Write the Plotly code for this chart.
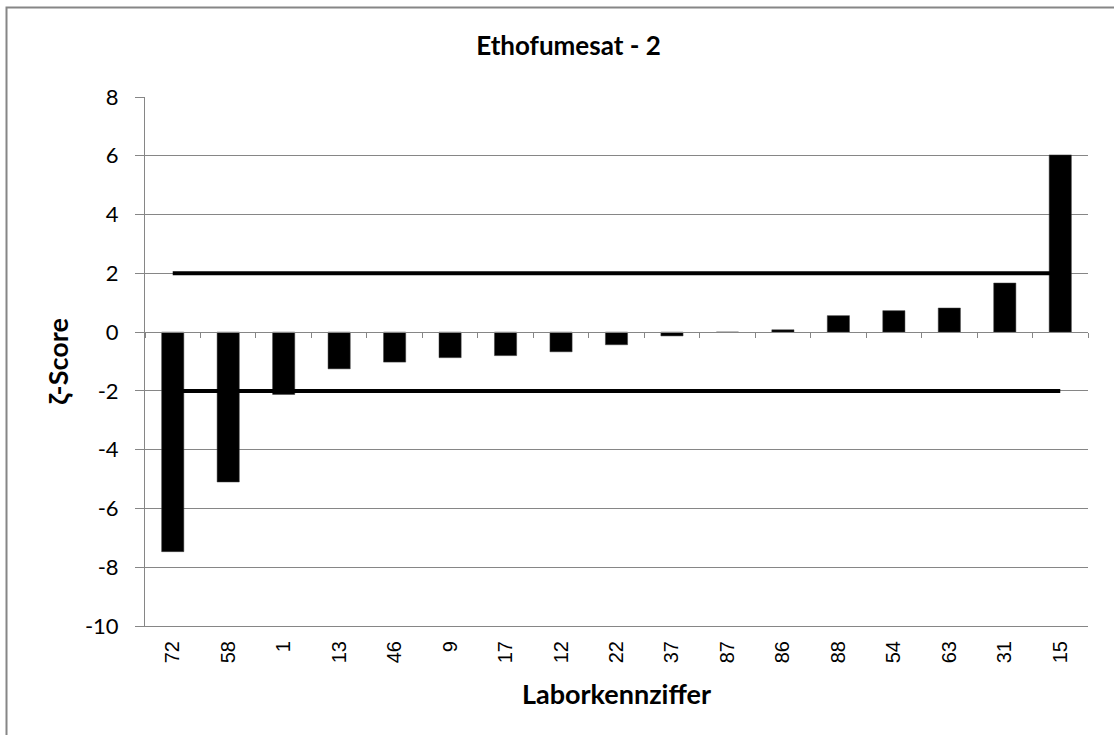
import plotly.graph_objects as go

labs = ["72", "58", "1", "13", "46", "9", "17", "12", "22", "37", "87", "86", "88", "54", "63", "31", "15"]
zscores = [-7.47, -5.1, -2.12, -1.25, -1.02, -0.87, -0.8, -0.67, -0.43, -0.13, 0.0, 0.08, 0.56, 0.73, 0.82, 1.67, 6.03]
upper_limit = [2] * len(labs)
lower_limit = [-2] * len(labs)

y_tickvals = [-10, -8, -6, -4, -2, 0, 2, 4, 6, 8]
y_ticktext = ["-10", "-8", "-6", "-4", "-2", "0", "2", "4", "6", "8"]

title_text = "Ethofumesat - 2"
x_title = "Laborkennziffer"
y_title = "ζ-Score"

GRID = "#868686"
FONT = "Lato"

fig = go.Figure()
fig.add_trace(go.Bar(
    x=labs, y=zscores,
    marker=dict(color="black", line=dict(color="#404040", width=0.5)),
    showlegend=False, hoverinfo="x+y",
))
fig.add_trace(go.Scatter(
    x=labs, y=upper_limit, mode="lines",
    line=dict(color="black", width=4), showlegend=False, xaxis="x2",
))
fig.add_trace(go.Scatter(
    x=labs, y=lower_limit, mode="lines",
    line=dict(color="black", width=4), showlegend=False, xaxis="x2",
))

zero_pos = (0 - (-10)) / (8 - (-10))

fig.update_layout(
    width=1114, height=735,
    margin=dict(l=145, r=26, t=97, b=109),
    paper_bgcolor="white", plot_bgcolor="white",
    bargap=0.6,
    title=dict(text="<b>" + title_text + "</b>", x=568.5 / 1114, xanchor="center",
               y=1 - 46 / 735, yanchor="middle",
               font=dict(family=FONT, size=26, color="black")),
    font=dict(family=FONT, color="black"),
    xaxis=dict(
        type="category", categoryorder="array", categoryarray=labs,
        range=[-0.5, len(labs) - 0.5],
        showline=True, linecolor=GRID, linewidth=1,
        showgrid=False, ticks="outside", ticklen=6, tickcolor="rgba(0,0,0,0)",
        tickangle=-90,
        tickfont=dict(family="Liberation Sans", size=20, color="black"),
        title=dict(text="<b>" + x_title + "</b>", standoff=22,
                   font=dict(family=FONT, size=27, color="black")),
    ),
    xaxis2=dict(
        type="category", categoryorder="array", categoryarray=labs,
        range=[-0.5, len(labs) - 0.5],
        overlaying="x", anchor="free", position=zero_pos, side="bottom",
        showline=True, linecolor=GRID, linewidth=1,
        ticks="outside", tickson="boundaries", ticklen=5, tickcolor=GRID,
        showticklabels=False, showgrid=False,
    ),
    yaxis=dict(
        range=[-10, 8], tickvals=y_tickvals, ticktext=y_ticktext,
        showline=True, linecolor=GRID, linewidth=1,
        showgrid=True, gridcolor=GRID, gridwidth=1, zeroline=False,
        ticks="outside", ticklen=9, tickcolor=GRID, ticklabelstandoff=12,
        tickfont=dict(family=FONT, size=22, color="black"),
        title=dict(text="<b>" + y_title + "</b>", standoff=8,
                   font=dict(family=FONT, size=27, color="black")),
    ),
    shapes=[dict(type="rect", xref="paper", yref="paper",
                 x0=-138.5 / 943, x1=1.2, y0=-0.4, y1=1 + 89.5 / 529,
                 line=dict(color=GRID, width=2), layer="below")],
)

fig.write_html("out.html", config={"displayModeBar": False},
               post_script="document.body.style.margin='0';document.body.style.overflow='hidden';")
